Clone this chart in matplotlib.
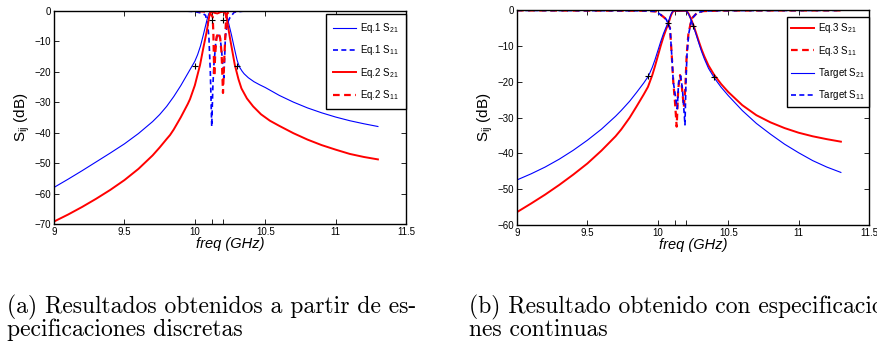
import matplotlib
matplotlib.use("Agg")
import matplotlib.pyplot as plt

plt.rcParams["font.family"] = ["Liberation Sans", "DejaVu Sans"]
plt.rcParams["mathtext.default"] = "regular"

# ---- (a) discrete specifications ----
eq1_s21_f = [9.0, 9.1, 9.2, 9.3, 9.4, 9.5, 9.6, 9.7, 9.75, 9.8, 9.85, 9.9, 9.95, 10.0,
             10.02, 10.04, 10.06, 10.08, 10.09, 10.1, 10.11, 10.14, 10.17, 10.2, 10.217, 10.23,
             10.24, 10.26, 10.276, 10.29, 10.3, 10.31, 10.32, 10.335, 10.35, 10.38, 10.42, 10.46,
             10.5, 10.6, 10.7, 10.8, 10.9, 11.0, 11.1, 11.2, 11.3]
eq1_s21_db = [-58.0, -55.3, -52.5, -49.6, -46.7, -43.7, -40.3, -36.4, -34.1, -31.4, -28.2, -24.6,
              -20.6, -16.6, -14.4, -11.6, -8.0, -4.2, -2.3, -0.9, -0.2, -0.2, -0.1, -0.1, -0.4, -2.1,
              -4.1, -7.9, -11.3, -14.2, -16.2, -17.6, -18.7, -19.8, -20.7, -22.0, -23.3, -24.3,
              -25.2, -27.8, -30.0, -31.9, -33.5, -34.9, -36.1, -37.1, -38.0]

eq1_s11_f = [9.0, 9.8, 9.95, 10.0, 10.05, 10.076, 10.09, 10.1, 10.11, 10.12, 10.128, 10.135, 10.15,
             10.165, 10.18, 10.19, 10.2, 10.206, 10.212, 10.217, 10.232, 10.25, 10.28, 10.35, 11.3]
eq1_s11_db = [0.0, -0.05, -0.15, -0.3, -0.8, -1.5, -4.0, -8.7, -20.0, -38.0, -25.0, -18.0, -9.6,
              -7.5, -9.0, -13.0, -19.0, -22.0, -15.0, -8.6, -3.9, -2.2, -0.5, -0.1, 0.0]

eq2_s21_f = [9.0, 9.1, 9.2, 9.3, 9.4, 9.5, 9.6, 9.7, 9.75, 9.8, 9.824, 9.85, 9.9, 9.95, 9.966, 10.0,
             10.037, 10.06, 10.084, 10.1, 10.107, 10.12, 10.14, 10.16, 10.18, 10.2, 10.215, 10.226,
             10.25, 10.284, 10.31, 10.331, 10.37, 10.414, 10.47, 10.533, 10.6, 10.7, 10.8, 10.9,
             11.0, 11.1, 11.2, 11.3]
eq2_s21_db = [-69.2, -66.9, -64.4, -61.7, -58.8, -55.6, -51.9, -47.5, -44.9, -42.1, -40.8, -39.0, -35.0,
              -30.6, -29.0, -24.5, -17.8, -12.3, -6.9, -2.5, -0.9, -0.3, -0.7, -0.9, -0.5, -0.3, -0.8,
              -2.5, -9.1, -17.8, -22.5, -25.5, -28.8, -31.4, -34.0, -36.1, -37.8, -40.2, -42.3, -44.1,
              -45.6, -47.0, -48.0, -48.8]

eq2_s11_f = [9.0, 10.0, 10.08, 10.11, 10.127, 10.132, 10.138, 10.145, 10.155, 10.17, 10.18, 10.19,
             10.2, 10.207, 10.216, 10.222, 10.23, 10.26, 10.3, 11.3]
eq2_s11_db = [0.0, -0.05, -0.3, -1.0, -2.0, -8.0, -21.5, -14.0, -8.5, -7.2, -9.0, -14.0,
              -27.0, -18.0, -8.7, -2.5, -0.8, -0.2, -0.05, 0.0]

spec_a_f = [10.0, 10.12, 10.2, 10.3]
spec_a_db = [-18.0, -3.0, -3.0, -18.0]

# ---- (b) continuous specifications ----
eq3_s21_f = [9.0, 9.1, 9.2, 9.3, 9.4, 9.5, 9.6, 9.7, 9.74, 9.8, 9.85, 9.9, 9.93, 9.96, 9.98, 10.0,
             10.02, 10.04, 10.06, 10.075, 10.09, 10.1, 10.11, 10.2, 10.21, 10.22, 10.235, 10.252,
             10.27, 10.29, 10.31, 10.33, 10.36, 10.4, 10.45, 10.5, 10.6, 10.7, 10.8, 10.9, 11.0,
             11.1, 11.2, 11.3]
eq3_s21_db = [-56.4, -54.0, -51.5, -48.8, -45.9, -42.8, -39.2, -35.2, -33.3, -30.0, -26.8, -23.5, -21.4,
              -18.2, -15.6, -12.8, -10.0, -7.4, -5.2, -3.7, -1.8, -0.8, -0.2, -0.1, -0.4, -1.0, -2.3,
              -4.0, -6.1, -8.5, -10.8, -12.8, -15.4, -18.0, -20.6, -22.8, -26.5, -29.3, -31.3, -32.9,
              -34.2, -35.2, -36.0, -36.7]

target_s21_f = [9.0, 9.1, 9.2, 9.3, 9.4, 9.5, 9.6, 9.7, 9.74, 9.8, 9.85, 9.9, 9.933, 9.96, 9.98, 10.0,
                10.02, 10.04, 10.06, 10.075, 10.09, 10.1, 10.11, 10.2, 10.21, 10.22, 10.235, 10.252,
                10.27, 10.29, 10.31, 10.33, 10.36, 10.4, 10.45, 10.5, 10.6, 10.7, 10.8, 10.9, 11.0,
                11.1, 11.2, 11.3]
target_s21_db = [-47.4, -45.7, -43.8, -41.6, -39.1, -36.3, -33.2, -29.6, -28.0, -25.4, -22.9, -20.3, -18.4,
                 -16.0, -13.8, -11.3, -8.8, -6.5, -4.6, -3.2, -1.4, -0.6, -0.1, -0.1, -0.5, -1.2, -2.5,
                 -4.3, -6.5, -9.0, -11.4, -13.5, -16.2, -18.8, -21.5, -23.8, -28.0, -31.6, -34.6, -37.4,
                 -39.8, -42.0, -43.8, -45.3]

eq3_s11_f = [9.0, 9.9, 9.99, 10.04, 10.06, 10.087, 10.099, 10.11, 10.122, 10.134, 10.145, 10.158,
             10.17, 10.185, 10.195, 10.205, 10.217, 10.24, 10.276, 10.32, 10.45, 11.3]
eq3_s11_db = [0.0, -0.1, -0.3, -1.8, -2.5, -5.0, -12.5, -20.0, -25.6, -32.5, -22.0, -18.1,
              -21.0, -27.0, -22.0, -12.5, -6.7, -2.3, -0.8, -0.2, -0.05, 0.0]

target_s11_f = [9.0, 9.9, 9.99, 10.04, 10.06, 10.087, 10.099, 10.11, 10.125, 10.138, 10.148, 10.162,
                10.175, 10.193, 10.2, 10.207, 10.219, 10.24, 10.276, 10.32, 10.45, 11.3]
target_s11_db = [0.0, -0.1, -0.3, -1.8, -2.5, -5.0, -12.5, -20.0, -24.0, -27.5, -20.0, -18.3,
                 -22.0, -32.0, -20.0, -12.5, -6.7, -2.4, -0.8, -0.2, -0.05, 0.0]

spec_b_f = [9.933, 10.075, 10.252, 10.4]
spec_b_db = [-18.3, -3.5, -4.3, -18.5]

xticks = [9, 9.5, 10, 10.12, 10.2, 10.5, 11, 11.5]
xticklabels = ["9", "9.5", "10", "", "", "10.5", "11", "11.5"]

BLUE = "#0000ff"
RED = "#ff0000"
DASH = (0, (3, 2))


def style_axes(ax, ymin):
    ax.set_xlim(9, 11.5)
    ax.set_ylim(ymin, 0)
    ax.set_xticks(xticks)
    ax.set_xticklabels(xticklabels)
    ax.set_yticks(list(range(ymin, 1, 10)))
    ax.tick_params(direction="in", top=True, right=True, length=3.5, width=0.6,
                   labelsize=7, pad=2)
    for s in ax.spines.values():
        s.set_linewidth(1.0)
    ax.set_xlabel("freq (GHz)", fontstyle="italic", fontsize=10.5, labelpad=0)
    ax.set_ylabel("S$_{ij}$ (dB)", fontsize=11, labelpad=2)


def add_legend(ax, top, pad):
    leg = ax.legend(loc="upper right", bbox_to_anchor=(1.0, top), borderaxespad=0,
                    fontsize=7, frameon=True, fancybox=False, edgecolor="black",
                    framealpha=1, handlelength=2.3, handletextpad=0.45,
                    labelspacing=0.85, borderpad=pad)
    leg.get_frame().set_linewidth(1.0)


fig = plt.figure(figsize=(8.78, 3.47), dpi=100)

ax1 = fig.add_axes([0.0615, 0.3545, 0.401, 0.6146])
ax1.plot(eq1_s21_f, eq1_s21_db, color=BLUE, lw=0.8, label="Eq.1 S$_{21}$")
ax1.plot(eq1_s11_f, eq1_s11_db, color=BLUE, lw=1.2, ls=DASH, label="Eq.1 S$_{11}$")
ax1.plot(eq2_s21_f, eq2_s21_db, color=RED, lw=1.4, label="Eq.2 S$_{21}$")
ax1.plot(eq2_s11_f, eq2_s11_db, color=RED, lw=1.6, ls=DASH, label="Eq.2 S$_{11}$")
ax1.plot(spec_a_f, spec_a_db, ls="none", marker="+", color="black", ms=5, mew=0.8)
style_axes(ax1, -70)
add_legend(ax1, 0.985, 0.75)

ax2 = fig.add_axes([0.5888, 0.3516, 0.401, 0.6184])
ax2.plot(eq3_s21_f, eq3_s21_db, color=RED, lw=1.4, label="Eq.3 S$_{21}$")
ax2.plot(eq3_s11_f, eq3_s11_db, color=RED, lw=1.6, ls=DASH, label="Eq.3 S$_{11}$")
ax2.plot(target_s21_f, target_s21_db, color=BLUE, lw=0.8, label="Target S$_{21}$")
ax2.plot(target_s11_f, target_s11_db, color=BLUE, lw=1.2, ls=DASH, label="Target S$_{11}$")
ax2.plot(spec_b_f, spec_b_db, ls="none", marker="+", color="black", ms=5, mew=0.8)
style_axes(ax2, -60)
add_legend(ax2, 0.969, 0.45)

cap = dict(fontfamily="cmr10", fontsize=17, va="baseline", ha="left")
fig.text(7 / 878, 1 - 313 / 347, "(a) Resultados obtenidos a partir de es-", **cap)
fig.text(7 / 878, 1 - 336 / 347, "pecificaciones discretas", **cap)
fig.text(469 / 878, 1 - 313 / 347, "(b) Resultado obtenido con especificacio", **cap)
fig.text(469 / 878, 1 - 336 / 347, "nes continuas", **cap)

fig.savefig("out.png", dpi=100)
